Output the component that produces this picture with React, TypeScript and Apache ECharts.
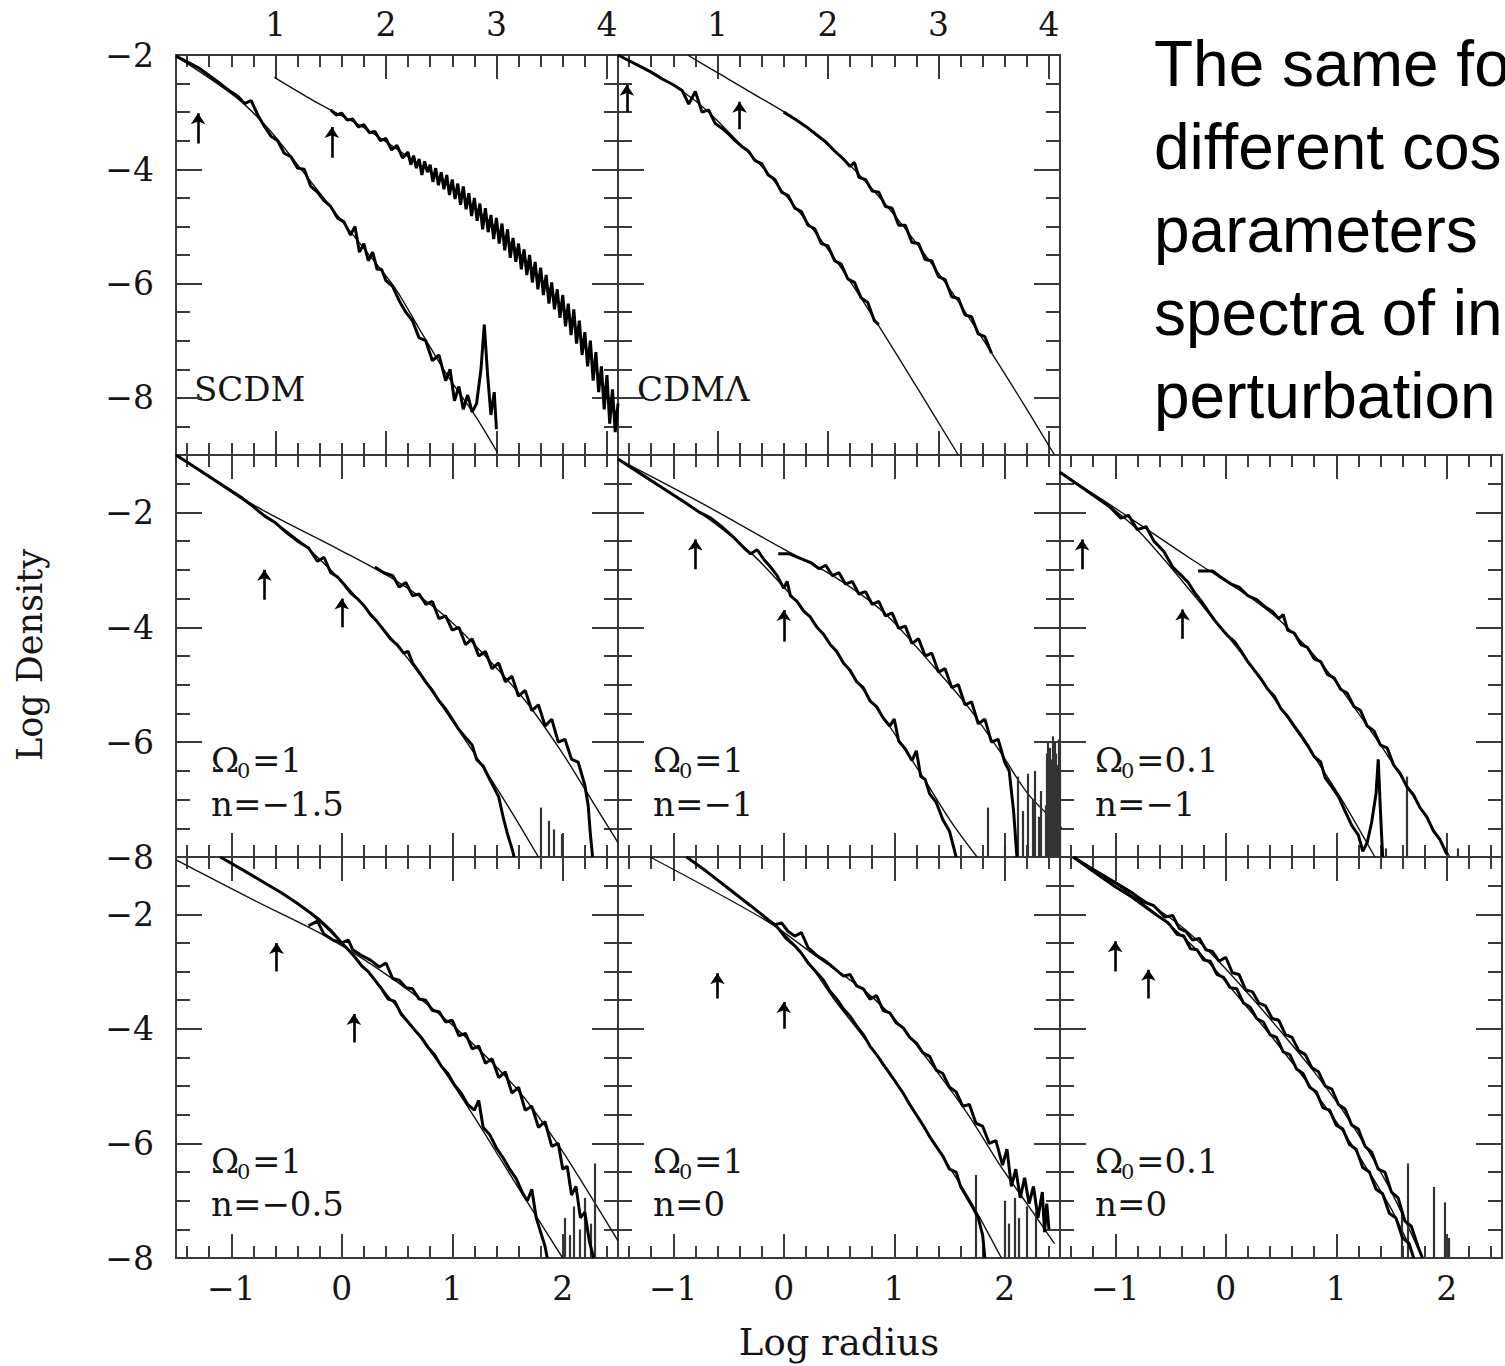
import React, { useEffect, useRef } from "react";
import * as echarts from "echarts";

type Pt = [number, number];
type Arrow = [number, number, number]; // x, tail y, head y
type Spike = [number, number]; // x, top y

// ---------- tick values ----------
const topMajorX = [1, 2, 3, 4];
const topMinorX = [0.2, 0.4, 0.6, 0.8, 1.2, 1.4, 1.6, 1.8, 2.2, 2.4, 2.6, 2.8, 3.2, 3.4, 3.6, 3.8];
const lowMajorX = [-1, 0, 1, 2];
const lowMinorX = [-1.4, -1.2, -0.8, -0.6, -0.4, -0.2, 0.2, 0.4, 0.6, 0.8, 1.2, 1.4, 1.6, 1.8, 2.2, 2.4];
const majorY = [-2, -4, -6, -8];
const topMinorY = [-2.5, -3, -3.5, -4.5, -5, -5.5, -6.5, -7, -7.5, -8.5];
const lowMinorY = [-1.5, -2.5, -3, -3.5, -4.5, -5, -5.5, -6.5, -7, -7.5];

// ---------- texts ----------
const panelNames = ["SCDM", "CDMΛ"];
const omegaValues = ["1", "1", "0.1", "1", "1", "0.1"];
const nValues = ["−1.5", "−1", "−1", "−0.5", "0", "0"];
const sideText = ["The same fo", "different cos", "parameters", "spectra of in", "perturbation"];

// ---------- Panel 1: SCDM ----------
const scdmTheoryOuter: Pt[] = [[0.99,-2.39],[1.4,-2.86],[1.8,-3.27],[2.2,-3.78],[2.6,-4.33],[3.0,-5.03],[3.4,-5.9],[3.7,-6.7],[3.95,-7.7],[4.1,-8.35]];
const scdmDataOuter: Pt[] = [[1.5,-2.96],[1.55,-3.05],[1.6,-3.02],[1.65,-3.14],[1.7,-3.12],[1.75,-3.26],[1.8,-3.22],[1.85,-3.36],[1.9,-3.34],[1.95,-3.5],[2.0,-3.46],[2.05,-3.66],[2.1,-3.58],[2.15,-3.8],[2.2,-3.7],[2.225,-3.92],[2.25,-3.76],[2.275,-3.98],[2.3,-3.82],[2.325,-4.1],[2.35,-3.86],[2.375,-4.05],[2.4,-3.92],[2.425,-4.22],[2.45,-3.98],[2.475,-4.28],[2.5,-4.05],[2.525,-4.35],[2.55,-4.1],[2.575,-4.45],[2.6,-4.18],[2.625,-4.52],[2.65,-4.25],[2.675,-4.62],[2.7,-4.3],[2.725,-4.7],[2.75,-4.42],[2.775,-4.82],[2.8,-4.5],[2.825,-4.9],[2.85,-4.6],[2.875,-5.05],[2.9,-4.68],[2.925,-5.1],[2.95,-4.8],[2.975,-5.22],[3.0,-4.85],[3.025,-5.3],[3.05,-4.95],[3.075,-5.42],[3.1,-5.05],[3.125,-5.55],[3.15,-5.2],[3.175,-5.62],[3.2,-5.3],[3.225,-5.75],[3.25,-5.4],[3.275,-5.85],[3.3,-5.5],[3.325,-5.98],[3.35,-5.62],[3.375,-6.1],[3.4,-5.72],[3.425,-6.2],[3.45,-5.85],[3.475,-6.35],[3.5,-5.98],[3.525,-6.45],[3.55,-6.1],[3.575,-6.6],[3.6,-6.2],[3.625,-6.75],[3.65,-6.35],[3.675,-6.9],[3.7,-6.45],[3.725,-7.05],[3.75,-6.65],[3.775,-7.25],[3.8,-6.85],[3.825,-7.45],[3.85,-7.0],[3.875,-7.7],[3.9,-7.2],[3.925,-7.9],[3.95,-7.45],[3.975,-8.2],[4.0,-7.6],[4.025,-8.45],[4.05,-7.85],[4.075,-8.6],[4.1,-8.1]];
const scdmTheoryInner: Pt[] = [[0.1,-2.02],[0.65,-2.75],[0.94,-3.3],[1.22,-3.97],[1.55,-4.78],[1.84,-5.48],[2.09,-6.1],[2.31,-6.82],[2.56,-7.62],[2.81,-8.32],[3.01,-8.96]];
const scdmDataInner: Pt[] = [[0.1,-2.02],[0.2,-2.12],[0.3,-2.22],[0.4,-2.36],[0.5,-2.5],[0.58,-2.62],[0.66,-2.72],[0.72,-2.85],[0.78,-2.8],[0.84,-3.05],[0.9,-3.25],[0.96,-3.42],[1.02,-3.5],[1.08,-3.72],[1.14,-3.78],[1.2,-3.98],[1.26,-4.0],[1.32,-4.3],[1.38,-4.4],[1.44,-4.55],[1.5,-4.65],[1.56,-4.85],[1.62,-4.92],[1.68,-5.15],[1.72,-5.0],[1.76,-5.45],[1.8,-5.3],[1.84,-5.6],[1.88,-5.45],[1.92,-5.75],[1.96,-5.75],[2.0,-5.95],[2.06,-6.05],[2.12,-6.3],[2.18,-6.5],[2.24,-6.65],[2.3,-6.95],[2.36,-7.0],[2.42,-7.35],[2.48,-7.25],[2.54,-7.7],[2.58,-7.5],[2.62,-8.05],[2.66,-7.8],[2.7,-8.2],[2.74,-7.95],[2.78,-8.25],[2.82,-8.1],[2.86,-7.5],[2.89,-6.72],[2.92,-7.6],[2.95,-8.3],[2.98,-7.9],[3.0,-8.55]];
const scdmArrows: Arrow[] = [[0.3,-3.55,-3.02],[1.51,-3.8,-3.26]];

// ---------- Panel 2: CDM Lambda ----------
const cdmlTheoryOuter: Pt[] = [[0.73,-2.0],[1.0,-2.31],[1.29,-2.64],[1.74,-3.17],[2.2,-3.93],[2.65,-4.92],[3.1,-6.09],[3.46,-7.15],[3.8,-8.2],[4.05,-9.0]];
const cdmlDataOuter: Pt[] = [[1.6,-3.0],[1.7,-3.12],[1.8,-3.25],[1.9,-3.4],[1.98,-3.52],[2.06,-3.68],[2.14,-3.82],[2.2,-3.95],[2.24,-3.88],[2.28,-4.14],[2.34,-4.18],[2.4,-4.38],[2.46,-4.4],[2.52,-4.65],[2.58,-4.68],[2.64,-4.98],[2.7,-4.98],[2.76,-5.28],[2.82,-5.3],[2.88,-5.58],[2.94,-5.6],[3.0,-5.88],[3.06,-5.93],[3.12,-6.23],[3.18,-6.26],[3.24,-6.55],[3.3,-6.58],[3.36,-6.88],[3.42,-6.93],[3.48,-7.22]];
const cdmlTheoryInner: Pt[] = [[0.1,-2.0],[0.48,-2.38],[0.8,-2.8],[1.0,-3.15],[1.2,-3.55],[1.41,-3.97],[1.62,-4.46],[1.86,-5.04],[2.11,-5.7],[2.44,-6.68],[2.8,-7.8],[3.18,-9.0]];
const cdmlDataInner: Pt[] = [[0.1,-2.0],[0.2,-2.1],[0.3,-2.2],[0.4,-2.3],[0.5,-2.42],[0.6,-2.52],[0.68,-2.62],[0.74,-2.86],[0.8,-2.64],[0.86,-3.0],[0.92,-2.96],[0.98,-3.2],[1.04,-3.28],[1.1,-3.38],[1.16,-3.5],[1.22,-3.6],[1.28,-3.68],[1.34,-3.85],[1.4,-3.9],[1.46,-4.1],[1.52,-4.18],[1.58,-4.4],[1.64,-4.46],[1.7,-4.68],[1.76,-4.74],[1.82,-4.98],[1.88,-5.04],[1.94,-5.3],[2.0,-5.34],[2.06,-5.6],[2.12,-5.66],[2.18,-5.92],[2.24,-5.98],[2.3,-6.25],[2.36,-6.33],[2.42,-6.65],[2.46,-6.72]];
const cdmlArrows: Arrow[] = [[0.18,-3.0,-2.52],[1.2,-3.3,-2.82]];

// ---------- Panel 3: Omega=1, n=-1.5 ----------
const p4TheoryOuter: Pt[] = [[-1.5,-1.0],[-0.77,-1.9],[-0.02,-2.65],[0.5,-3.2],[0.9,-3.75],[1.2,-4.3],[1.67,-5.3],[2.0,-6.2],[2.21,-6.85],[2.5,-7.75]];
const p4DataOuter: Pt[] = [[0.3,-2.95],[0.38,-3.05],[0.46,-3.1],[0.52,-3.3],[0.58,-3.22],[0.64,-3.45],[0.7,-3.42],[0.76,-3.6],[0.82,-3.55],[0.88,-3.85],[0.94,-3.8],[1.0,-4.05],[1.06,-4.0],[1.12,-4.3],[1.18,-4.2],[1.24,-4.5],[1.3,-4.42],[1.36,-4.72],[1.42,-4.62],[1.48,-4.95],[1.54,-4.85],[1.6,-5.2],[1.66,-5.1],[1.72,-5.45],[1.78,-5.35],[1.84,-5.72],[1.9,-5.6],[1.96,-6.0],[2.02,-5.95],[2.08,-6.3],[2.14,-6.35],[2.2,-6.75],[2.23,-7.1],[2.25,-7.6],[2.27,-8.0]];
const p4TheoryInner: Pt[] = [[-1.5,-1.0],[-0.77,-1.95],[-0.38,-2.5],[0.0,-3.2],[0.3,-3.85],[0.6,-4.55],[0.9,-5.35],[1.2,-6.2],[1.5,-7.1],[1.78,-8.0]];
const p4DataInner: Pt[] = [[-1.5,-1.0],[-1.3,-1.25],[-1.1,-1.5],[-0.9,-1.75],[-0.8,-1.9],[-0.7,-2.06],[-0.6,-2.18],[-0.5,-2.35],[-0.4,-2.5],[-0.3,-2.62],[-0.22,-2.85],[-0.16,-2.78],[-0.1,-3.05],[-0.04,-3.12],[0.02,-3.25],[0.08,-3.4],[0.14,-3.5],[0.2,-3.62],[0.26,-3.78],[0.32,-3.9],[0.38,-4.05],[0.44,-4.2],[0.5,-4.3],[0.56,-4.45],[0.6,-4.42],[0.64,-4.62],[0.7,-4.78],[0.76,-4.95],[0.82,-5.1],[0.88,-5.28],[0.94,-5.42],[1.0,-5.6],[1.06,-5.78],[1.12,-5.92],[1.18,-6.05],[1.22,-6.3],[1.28,-6.42],[1.34,-6.65],[1.38,-6.8],[1.42,-6.95],[1.46,-7.3],[1.5,-7.6],[1.54,-7.85],[1.56,-8.0]];
const p4Arrows: Arrow[] = [[-0.7,-3.52,-3.0],[0.0,-4.0,-3.5]];
const p4Spikes: Spike[] = [[1.8,-7.14],[1.87,-7.37],[1.92,-7.52],[1.99,-7.6]];

// ---------- Panel 4: Omega=1, n=-1 ----------
const p5TheoryOuter: Pt[] = [[-1.5,-1.07],[-0.76,-1.82],[0.0,-2.64],[0.45,-3.11],[0.91,-3.75],[1.36,-4.69],[1.67,-5.39],[1.97,-6.2],[2.21,-6.9],[2.52,-7.5]];
const p5DataOuter: Pt[] = [[-0.05,-2.72],[0.05,-2.72],[0.15,-2.8],[0.25,-2.88],[0.32,-2.98],[0.38,-2.92],[0.44,-3.1],[0.5,-3.05],[0.56,-3.25],[0.62,-3.2],[0.68,-3.42],[0.74,-3.38],[0.8,-3.6],[0.86,-3.55],[0.92,-3.8],[0.98,-3.75],[1.04,-4.02],[1.1,-3.98],[1.16,-4.28],[1.22,-4.2],[1.28,-4.5],[1.34,-4.45],[1.4,-4.78],[1.46,-4.72],[1.52,-5.05],[1.58,-5.0],[1.64,-5.35],[1.7,-5.3],[1.76,-5.68],[1.82,-5.6],[1.88,-6.0],[1.94,-5.95],[2.0,-6.35],[2.04,-6.5],[2.08,-7.2],[2.11,-8.0]];
const p5TheoryInner: Pt[] = [[-1.5,-1.07],[-0.76,-2.0],[-0.3,-2.7],[0.0,-3.3],[0.3,-3.98],[0.61,-4.8],[0.97,-5.76],[1.24,-6.55],[1.52,-7.4],[1.75,-8.0]];
const p5DataInner: Pt[] = [[-1.5,-1.07],[-1.3,-1.32],[-1.1,-1.57],[-0.9,-1.82],[-0.76,-2.0],[-0.66,-2.1],[-0.56,-2.25],[-0.46,-2.42],[-0.36,-2.62],[-0.3,-2.72],[-0.24,-2.65],[-0.18,-2.82],[-0.12,-2.95],[-0.06,-3.1],[0.0,-3.32],[0.03,-3.2],[0.06,-3.45],[0.12,-3.55],[0.18,-3.72],[0.24,-3.82],[0.3,-4.0],[0.36,-4.12],[0.42,-4.3],[0.48,-4.42],[0.54,-4.62],[0.6,-4.75],[0.66,-4.95],[0.72,-5.05],[0.78,-5.28],[0.84,-5.38],[0.9,-5.58],[0.96,-5.72],[1.0,-5.6],[1.04,-5.98],[1.1,-6.12],[1.16,-6.32],[1.2,-6.15],[1.24,-6.6],[1.28,-6.65],[1.32,-6.9],[1.38,-7.05],[1.44,-7.35],[1.5,-7.55],[1.54,-7.85],[1.56,-8.0]];
const p5Arrows: Arrow[] = [[-0.8,-2.99,-2.47],[0.0,-4.25,-3.7]];
const p5Spikes: Spike[] = [[1.85,-7.14],[2.0,-7.8],[2.12,-6.6],[2.16,-7.2],[2.21,-6.55],[2.25,-7.0],[2.27,-6.5],[2.31,-7.3],[2.33,-6.85],[2.37,-7.1],[2.38,-6.2],[2.39,-6.0],[2.4,-6.6],[2.41,-6.1],[2.42,-6.3],[2.43,-5.9],[2.44,-6.9],[2.45,-6.0],[2.46,-6.2],[2.47,-6.5],[2.48,-6.4],[2.49,-5.95],[2.5,-6.05]];

// ---------- Panel 5: Omega=0.1, n=-1 ----------
const p6TheoryOuter: Pt[] = [[-1.5,-1.3],[-1.1,-1.8],[-0.77,-2.22],[-0.4,-2.7],[-0.17,-2.99],[0.2,-3.45],[0.5,-3.9],[0.89,-4.69],[1.35,-5.91],[1.65,-6.79],[2.03,-8.0]];
const p6DataOuter: Pt[] = [[-0.25,-3.02],[-0.12,-3.02],[-0.05,-3.12],[0.05,-3.25],[0.12,-3.3],[0.2,-3.45],[0.28,-3.52],[0.36,-3.65],[0.42,-3.72],[0.48,-3.85],[0.52,-3.78],[0.56,-4.05],[0.62,-4.1],[0.68,-4.3],[0.74,-4.35],[0.8,-4.55],[0.86,-4.6],[0.92,-4.82],[0.98,-4.88],[1.04,-5.08],[1.1,-5.15],[1.16,-5.38],[1.22,-5.45],[1.28,-5.72],[1.34,-5.8],[1.4,-6.05],[1.46,-6.1],[1.52,-6.4],[1.58,-6.55],[1.64,-6.78],[1.7,-6.92],[1.76,-7.15],[1.82,-7.3],[1.88,-7.55],[1.94,-7.7],[2.0,-7.95]];
const p6TheoryInner: Pt[] = [[-1.5,-1.3],[-1.1,-1.82],[-0.8,-2.3],[-0.5,-2.95],[-0.2,-3.65],[0.14,-4.45],[0.44,-5.25],[0.74,-6.08],[1.05,-7.0],[1.35,-8.0]];
const p6DataInner: Pt[] = [[-1.5,-1.3],[-1.35,-1.5],[-1.2,-1.7],[-1.05,-1.9],[-0.95,-2.1],[-0.88,-2.05],[-0.8,-2.3],[-0.72,-2.25],[-0.65,-2.5],[-0.56,-2.68],[-0.48,-2.95],[-0.4,-3.1],[-0.34,-3.22],[-0.28,-3.4],[-0.22,-3.55],[-0.16,-3.72],[-0.1,-3.88],[-0.04,-4.02],[0.02,-4.15],[0.08,-4.25],[0.14,-4.42],[0.2,-4.6],[0.26,-4.75],[0.32,-4.9],[0.38,-5.08],[0.44,-5.2],[0.5,-5.42],[0.56,-5.55],[0.62,-5.72],[0.68,-5.88],[0.74,-6.05],[0.8,-6.25],[0.86,-6.35],[0.9,-6.62],[0.96,-6.78],[1.02,-6.95],[1.08,-7.2],[1.14,-7.45],[1.2,-7.62],[1.24,-7.9],[1.28,-7.75],[1.32,-7.4],[1.36,-6.9],[1.38,-6.3],[1.4,-7.2],[1.42,-8.0]];
const p6Arrows: Arrow[] = [[-1.3,-2.99,-2.47],[-0.39,-4.2,-3.69]];
const p6Spikes: Spike[] = [[1.45,-7.85],[1.64,-6.6],[2.1,-7.85]];

// ---------- Panel 6: Omega=1, n=-0.5 ----------
const p7TheoryOuter: Pt[] = [[-1.5,-1.05],[-0.8,-1.75],[-0.12,-2.41],[0.5,-3.18],[1.04,-4.0],[1.59,-5.06],[1.95,-6.0],[2.24,-6.88],[2.5,-7.7]];
const p7DataOuter: Pt[] = [[-0.3,-2.2],[-0.22,-2.12],[-0.16,-2.35],[-0.08,-2.45],[0.0,-2.5],[0.06,-2.45],[0.1,-2.62],[0.18,-2.72],[0.26,-2.8],[0.34,-2.92],[0.4,-2.85],[0.46,-3.12],[0.52,-3.15],[0.58,-3.28],[0.64,-3.3],[0.7,-3.48],[0.76,-3.5],[0.82,-3.68],[0.88,-3.7],[0.94,-3.88],[1.0,-3.85],[1.06,-4.12],[1.12,-4.08],[1.18,-4.35],[1.24,-4.3],[1.3,-4.6],[1.36,-4.52],[1.42,-4.85],[1.48,-4.75],[1.54,-5.12],[1.6,-5.02],[1.66,-5.42],[1.72,-5.35],[1.78,-5.72],[1.84,-5.62],[1.9,-6.05],[1.96,-6.0],[2.0,-6.45],[2.04,-6.4],[2.08,-6.9],[2.12,-6.75],[2.16,-7.3],[2.2,-7.2],[2.24,-7.7],[2.28,-8.0]];
const p7TheoryInner: Pt[] = [[-1.1,-1.0],[-0.41,-1.8],[0.0,-2.5],[0.43,-3.45],[0.86,-4.55],[1.22,-5.6],[1.59,-6.75],[1.95,-7.85],[2.0,-8.0]];
const p7DataInner: Pt[] = [[-1.1,-1.0],[-0.9,-1.22],[-0.7,-1.45],[-0.55,-1.62],[-0.41,-1.8],[-0.3,-1.95],[-0.2,-2.1],[-0.1,-2.28],[0.0,-2.5],[0.06,-2.62],[0.12,-2.75],[0.18,-2.9],[0.24,-3.0],[0.3,-3.15],[0.36,-3.3],[0.42,-3.48],[0.48,-3.52],[0.54,-3.75],[0.6,-3.88],[0.66,-4.02],[0.72,-4.15],[0.78,-4.32],[0.84,-4.45],[0.9,-4.65],[0.96,-4.78],[1.02,-4.98],[1.08,-5.12],[1.14,-5.32],[1.2,-5.42],[1.24,-5.25],[1.28,-5.72],[1.34,-5.85],[1.4,-6.08],[1.46,-6.25],[1.52,-6.45],[1.58,-6.62],[1.64,-6.88],[1.68,-7.0],[1.72,-6.8],[1.76,-7.3],[1.8,-7.55],[1.84,-7.8],[1.86,-8.0]];
const p7Arrows: Arrow[] = [[-0.59,-3.0,-2.5],[0.11,-4.24,-3.74]];
const p7Spikes: Spike[] = [[2.02,-7.3],[2.06,-7.6],[2.1,-7.1],[2.15,-7.5],[2.2,-6.95],[2.25,-7.4],[2.29,-6.35]];

// ---------- Panel 7: Omega=1, n=0 ----------
const p8TheoryOuter: Pt[] = [[-1.21,-1.0],[-0.15,-2.12],[0.27,-2.7],[0.76,-3.38],[1.06,-3.95],[1.36,-4.68],[1.67,-5.5],[1.97,-6.42],[2.2,-7.05],[2.45,-7.75]];
const p8DataOuter: Pt[] = [[-0.15,-2.1],[-0.08,-2.18],[-0.02,-2.15],[0.04,-2.3],[0.1,-2.38],[0.16,-2.32],[0.22,-2.58],[0.3,-2.72],[0.38,-2.82],[0.46,-2.95],[0.54,-3.08],[0.6,-3.05],[0.66,-3.25],[0.72,-3.3],[0.78,-3.48],[0.84,-3.42],[0.9,-3.68],[0.96,-3.72],[1.02,-3.9],[1.08,-3.98],[1.14,-4.15],[1.2,-4.25],[1.26,-4.42],[1.32,-4.48],[1.38,-4.72],[1.44,-4.78],[1.5,-5.02],[1.56,-5.1],[1.62,-5.35],[1.68,-5.32],[1.74,-5.65],[1.8,-5.7],[1.86,-6.0],[1.92,-5.95],[1.98,-6.38],[2.02,-6.1],[2.06,-6.75],[2.1,-6.45],[2.14,-6.95],[2.18,-6.6],[2.22,-7.05],[2.26,-6.75],[2.3,-7.3],[2.34,-6.85],[2.36,-7.55],[2.38,-7.05],[2.4,-7.5]];
const p8TheoryInner: Pt[] = [[-0.88,-1.0],[-0.15,-2.08],[0.15,-2.65],[0.45,-3.47],[0.76,-4.24],[1.06,-5.06],[1.36,-6.0],[1.67,-6.94],[1.97,-8.0]];
const p8DataInner: Pt[] = [[-0.88,-1.0],[-0.7,-1.25],[-0.5,-1.55],[-0.3,-1.85],[-0.15,-2.08],[-0.06,-2.22],[0.02,-2.42],[0.1,-2.55],[0.16,-2.68],[0.22,-2.85],[0.3,-3.02],[0.36,-3.15],[0.42,-3.35],[0.48,-3.48],[0.54,-3.65],[0.6,-3.78],[0.66,-3.95],[0.72,-4.1],[0.78,-4.3],[0.84,-4.45],[0.9,-4.62],[0.96,-4.78],[1.02,-4.95],[1.08,-5.12],[1.14,-5.32],[1.2,-5.5],[1.26,-5.68],[1.32,-5.88],[1.38,-6.05],[1.44,-6.22],[1.5,-6.45],[1.56,-6.5],[1.6,-6.75],[1.66,-6.95],[1.72,-7.15],[1.76,-7.3],[1.8,-7.6],[1.82,-8.0]];
const p8Arrows: Arrow[] = [[-0.6,-3.47,-3.03],[0.0,-4.0,-3.53]];
const p8Spikes: Spike[] = [[1.74,-6.55],[2.0,-7.0],[2.04,-7.4],[2.09,-6.95],[2.13,-7.3],[2.2,-7.1],[2.28,-7.2]];

// ---------- Panel 8: Omega=0.1, n=0 ----------
const p9TheoryOuter: Pt[] = [[-1.38,-1.0],[-0.9,-1.55],[-0.41,-2.2],[-0.1,-2.75],[0.2,-3.38],[0.5,-4.05],[0.8,-4.75],[1.05,-5.4],[1.25,-6.0],[1.5,-6.85],[1.78,-8.0]];
const p9DataOuter: Pt[] = [[-1.38,-1.0],[-1.2,-1.22],[-1.0,-1.45],[-0.85,-1.62],[-0.75,-1.78],[-0.65,-1.85],[-0.55,-2.05],[-0.48,-2.02],[-0.42,-2.25],[-0.36,-2.3],[-0.3,-2.45],[-0.24,-2.42],[-0.18,-2.62],[-0.12,-2.65],[-0.06,-2.82],[0.0,-2.75],[0.06,-3.02],[0.12,-3.05],[0.18,-3.32],[0.24,-3.35],[0.3,-3.55],[0.36,-3.6],[0.42,-3.82],[0.48,-3.85],[0.54,-4.1],[0.6,-4.15],[0.66,-4.38],[0.72,-4.45],[0.78,-4.68],[0.84,-4.75],[0.9,-5.0],[0.96,-5.05],[1.02,-5.32],[1.08,-5.4],[1.14,-5.68],[1.2,-5.75],[1.26,-6.05],[1.32,-6.15],[1.38,-6.45],[1.44,-6.5],[1.5,-6.85],[1.56,-6.95],[1.62,-7.35],[1.68,-7.45],[1.74,-7.8],[1.78,-8.0]];
const p9TheoryInner: Pt[] = [[-1.38,-1.0],[-0.9,-1.6],[-0.47,-2.25],[-0.15,-2.85],[0.14,-3.5],[0.45,-4.22],[0.74,-4.94],[1.0,-5.62],[1.2,-6.2],[1.5,-7.15],[1.71,-8.0]];
const p9DataInner: Pt[] = [[-1.38,-1.0],[-1.2,-1.25],[-1.0,-1.52],[-0.85,-1.7],[-0.72,-1.88],[-0.62,-2.02],[-0.52,-2.15],[-0.44,-2.35],[-0.38,-2.38],[-0.32,-2.6],[-0.26,-2.62],[-0.2,-2.8],[-0.14,-2.82],[-0.08,-3.05],[-0.02,-3.1],[0.04,-3.28],[0.1,-3.3],[0.16,-3.55],[0.22,-3.62],[0.28,-3.82],[0.34,-3.88],[0.4,-4.1],[0.46,-4.15],[0.52,-4.4],[0.58,-4.45],[0.64,-4.7],[0.7,-4.78],[0.76,-5.02],[0.82,-5.1],[0.88,-5.38],[0.94,-5.42],[1.0,-5.68],[1.06,-5.75],[1.12,-6.02],[1.18,-6.1],[1.24,-6.42],[1.3,-6.5],[1.36,-6.8],[1.42,-6.88],[1.48,-7.22],[1.54,-7.3],[1.6,-7.65],[1.66,-7.75],[1.7,-8.0]];
const p9Arrows: Arrow[] = [[-1.0,-3.0,-2.47],[-0.7,-3.47,-2.97]];
const p9Spikes: Spike[] = [[1.59,-7.18],[1.65,-6.35],[1.88,-6.76],[1.98,-7.03],[2.02,-7.65]];

// ---------- panel table ----------
const panels = [
  { row: 0, col: 0, tA: scdmTheoryOuter, tB: scdmTheoryInner, dA: scdmDataOuter, dB: scdmDataInner, arrows: scdmArrows, spikes: [] as Spike[] },
  { row: 0, col: 1, tA: cdmlTheoryOuter, tB: cdmlTheoryInner, dA: cdmlDataOuter, dB: cdmlDataInner, arrows: cdmlArrows, spikes: [] as Spike[] },
  { row: 1, col: 0, tA: p4TheoryOuter, tB: p4TheoryInner, dA: p4DataOuter, dB: p4DataInner, arrows: p4Arrows, spikes: p4Spikes },
  { row: 1, col: 1, tA: p5TheoryOuter, tB: p5TheoryInner, dA: p5DataOuter, dB: p5DataInner, arrows: p5Arrows, spikes: p5Spikes },
  { row: 1, col: 2, tA: p6TheoryOuter, tB: p6TheoryInner, dA: p6DataOuter, dB: p6DataInner, arrows: p6Arrows, spikes: p6Spikes },
  { row: 2, col: 0, tA: p7TheoryOuter, tB: p7TheoryInner, dA: p7DataOuter, dB: p7DataInner, arrows: p7Arrows, spikes: p7Spikes },
  { row: 2, col: 1, tA: p8TheoryOuter, tB: p8TheoryInner, dA: p8DataOuter, dB: p8DataInner, arrows: p8Arrows, spikes: p8Spikes },
  { row: 2, col: 2, tA: p9TheoryOuter, tB: p9TheoryInner, dA: p9DataOuter, dB: p9DataInner, arrows: p9Arrows, spikes: p9Spikes },
];

// ---------- layout ----------
const ROWS = [
  { top: 55, height: 400, xMin: 0.1, xMax: 4.1, yMin: -9, yMax: -2 },
  { top: 455, height: 402, xMin: -1.5, xMax: 2.5, yMin: -8, yMax: -1 },
  { top: 857, height: 401, xMin: -1.5, xMax: 2.5, yMin: -8, yMax: -1 },
];
const COL_LEFT = [176, 618, 1060];
const PANEL_W = 442;
const SERIF = "'DejaVu Serif', 'Liberation Serif', serif";
const AX = "#3a3a3a";

const fmt = (v: number) => (v < 0 ? "\u2212" + Math.abs(v) : String(v));

function buildOption() {
  const grid: any[] = [];
  const xAxis: any[] = [];
  const yAxis: any[] = [];
  const series: any[] = [];

  panels.forEach((p, i) => {
    const r = ROWS[p.row];
    grid.push({ left: COL_LEFT[p.col], top: r.top, width: PANEL_W, height: r.height, containLabel: false });
    const isTop = p.row === 0;
    const majX = isTop ? topMajorX : lowMajorX;
    const minX = isTop ? topMinorX : lowMinorX;
    const minY = isTop ? topMinorY : lowMinorY;
    const labelStyle = { fontFamily: SERIF, fontSize: 33, color: "#151515", formatter: fmt };

    const mkX = (position: string, major: boolean, showLabel: boolean) => ({
      type: "value", gridIndex: i, position, min: r.xMin, max: r.xMax,
      axisLine: { show: major, onZero: false, lineStyle: { color: AX, width: 2 } },
      axisTick: { show: true, inside: true, length: major ? 24 : 12, customValues: major ? majX : minX, lineStyle: { color: AX, width: 2 } },
      axisLabel: { show: showLabel, customValues: majX, margin: 14, ...labelStyle },
      splitLine: { show: false },
    });
    const mkY = (position: string, major: boolean, showLabel: boolean) => ({
      type: "value", gridIndex: i, position, min: r.yMin, max: r.yMax,
      axisLine: { show: major, onZero: false, lineStyle: { color: AX, width: 2 } },
      axisTick: { show: true, inside: true, length: major ? 26 : 14, customValues: major ? majorY : minY, lineStyle: { color: AX, width: 2 } },
      axisLabel: { show: showLabel, customValues: majorY, margin: 22, ...labelStyle },
      splitLine: { show: false },
    });
    xAxis.push(mkX("bottom", true, p.row === 2));
    xAxis.push(mkX("bottom", false, false));
    xAxis.push(mkX("top", true, p.row === 0));
    xAxis.push(mkX("top", false, false));
    yAxis.push(mkY("left", true, p.col === 0));
    yAxis.push(mkY("left", false, false));
    yAxis.push(mkY("right", true, false));
    yAxis.push(mkY("right", false, false));

    const ax = { xAxisIndex: i * 4, yAxisIndex: i * 4 };
    const theory = (d: Pt[]) => ({ type: "line", ...ax, data: d, symbol: "none", smooth: 0.3, lineStyle: { color: "#111", width: 1.4 }, z: 2, silent: true });
    const dat = (d: Pt[]) => ({ type: "line", ...ax, data: d, symbol: "none", lineStyle: { color: "#000", width: 3 }, z: 3, silent: true });
    series.push(theory(p.tA), theory(p.tB), dat(p.dA), dat(p.dB));
    series.push({
      type: "lines", coordinateSystem: "cartesian2d", ...ax, symbol: ["none", "arrow"], symbolSize: 11,
      lineStyle: { color: "#000", width: 2.6, opacity: 1 }, z: 4, silent: true,
      data: p.arrows.map((a) => ({ coords: [[a[0], a[1]], [a[0], a[2]]] })),
    });
    if (p.spikes.length) {
      series.push({
        type: "lines", coordinateSystem: "cartesian2d", ...ax, symbol: "none",
        lineStyle: { color: "#333", width: 2.2, opacity: 1 }, z: 3, silent: true,
        data: p.spikes.map((s) => ({ coords: [[s[0], r.yMin], [s[0], s[1]]] })),
      });
    }
  });

  const graphic: any[] = [];
  const txt = (x: number, y: number, text: string, size: number) => ({
    type: "text", x, y, silent: true,
    style: { text, fontFamily: SERIF, fontSize: size, fill: "#151515", align: "left", verticalAlign: "middle" },
  });
  graphic.push(txt(194, 389, panelNames[0], 34));
  graphic.push(txt(637, 389, panelNames[1], 34));
  const omegaRows = [{ oy: 760, ny: 804 }, { oy: 1161, ny: 1204 }];
  for (let k = 0; k < 6; k++) {
    const rr = omegaRows[Math.floor(k / 3)];
    const x0 = COL_LEFT[k % 3] + 35;
    graphic.push(txt(x0, rr.oy, "Ω", 34));
    graphic.push(txt(x0 + 26, rr.oy + 11, "0", 21));
    graphic.push(txt(x0 + 41, rr.oy, "=" + omegaValues[k], 34));
    graphic.push(txt(x0, rr.ny, "n=" + nValues[k], 34));
  }
  graphic.push({
    type: "text", x: 30, y: 655, rotation: Math.PI / 2, silent: true,
    style: { text: "Log Density", fontFamily: SERIF, fontSize: 35, fill: "#151515", align: "center", verticalAlign: "middle" },
  });
  graphic.push({
    type: "text", x: 839, y: 1342, silent: true,
    style: { text: "Log radius", fontFamily: SERIF, fontSize: 37, fill: "#151515", align: "center", verticalAlign: "middle" },
  });
  sideText.forEach((line, k) => {
    graphic.push({
      type: "text", x: 1154, y: 64 + k * 83, silent: true,
      style: { text: line, fontFamily: "'Liberation Sans', Arial, sans-serif", fontSize: 64, fill: "#000", align: "left", verticalAlign: "middle" },
    });
  });

  return { animation: false, backgroundColor: "#fff", grid, xAxis, yAxis, series, graphic };
}

export default function App() {
  const ref = useRef<HTMLDivElement>(null);
  useEffect(() => {
    if (!ref.current) return;
    const chart = echarts.init(ref.current, undefined, { renderer: "svg" });
    chart.setOption(buildOption() as any);
    return () => chart.dispose();
  }, []);
  return <div ref={ref} style={{ position: "absolute", left: 0, top: 0, width: 1505, height: 1366, background: "#fff" }} />;
}
